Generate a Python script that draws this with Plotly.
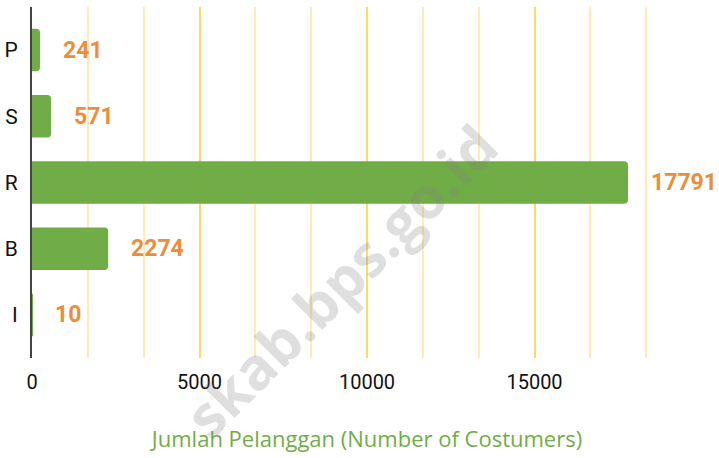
import plotly.graph_objects as go

categories = ["P", "S", "R", "B", "I"]
values = [241, 571, 17791, 2274, 10]
tick_vals = [0, 5000, 10000, 15000, 20000]
tick_text = ["0", "5000", "10000", "15000", ""]
x_title = "Jumlah Pelanggan (Number of Costumers)"
watermark = "skab.bps.go.id"

green = "#70AD47"
orange = "#EA8E3A"

fig = go.Figure()
fig.add_trace(go.Bar(
    x=values, y=categories, orientation="h",
    marker=dict(color=green, cornerradius=4, line=dict(width=0)),
    width=0.64, showlegend=False, hoverinfo="x+y",
))
for c, v in zip(categories, values):
    fig.add_annotation(x=v, y=c, text=str(v), showarrow=False,
                       xanchor="left", yanchor="middle", xshift=21, yshift=0,
                       font=dict(family="Roboto", size=23, color=orange, weight="bold"))

fig.add_annotation(x=0.46, y=0.22, xref="paper", yref="paper", text=watermark,
                   xanchor="center", yanchor="middle",
                   showarrow=False, textangle=-45,
                   font=dict(family="Open Sans", size=58, color="rgba(128,128,128,0.25)", weight="bold"))

fig.update_layout(
    width=719, height=458,
    margin=dict(l=32, r=17, t=7, b=100),
    plot_bgcolor="white", paper_bgcolor="white",
    xaxis=dict(
        range=[0, 20000], tickmode="array", tickvals=tick_vals, ticktext=tick_text,
        automargin=False,
        showgrid=True, gridcolor="#FFD966", gridwidth=1.5,
        minor=dict(dtick=5000/3, showgrid=True, gridcolor="#FFEBB3", gridwidth=1.5),
        zeroline=False, showline=False,
        ticks="outside", ticklen=6, tickcolor="rgba(0,0,0,0)",
        tickfont=dict(family="Roboto", size=20, color="#111"),
        title=dict(text=x_title, standoff=38,
                   font=dict(family="Open Sans", size=22, color=green)),
    ),
    yaxis=dict(
        categoryorder="array", categoryarray=categories, range=[4.65, -0.65],
        automargin=False,
        showgrid=False, zeroline=False,
        showline=True, linecolor="#444", linewidth=2,
        ticks="outside", ticklen=8, tickcolor="rgba(0,0,0,0)",
        tickfont=dict(family="Roboto", size=21, color="#111"),
    ),
)
fig.write_html("out.html", config={"displayModeBar": False},
               post_script="document.body.style.margin='0px';")
